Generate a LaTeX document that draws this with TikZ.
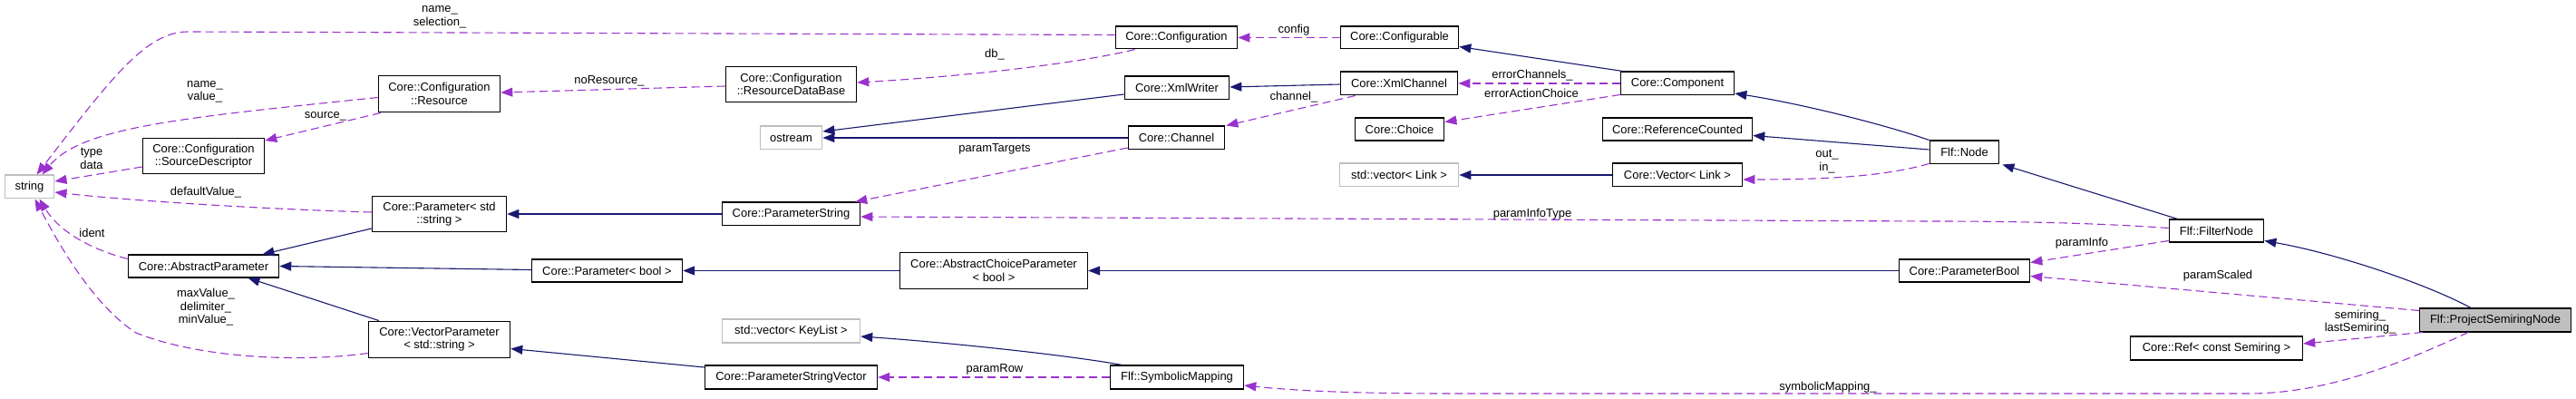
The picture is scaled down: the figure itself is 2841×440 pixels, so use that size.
\documentclass[tikz,border=0pt]{standalone}
\usepackage{fontspec}
\setmainfont{Liberation Sans}
\usetikzlibrary{arrows.meta,calc}
\definecolor{inhcol}{HTML}{191970}
\definecolor{usecol}{HTML}{9A32CD}
\definecolor{extgray}{HTML}{BFBFBF}
\tikzset{
  cls/.style={draw=black, line width=1.1bp, fill=white, inner sep=0pt, align=center,
    font=\fontsize{13}{14.6}\selectfont},
  ext/.style={cls, draw=extgray},
  cur/.style={cls, fill=extgray},
  inh/.style={draw=inhcol, line width=1.1bp, -{Triangle[length=13bp,width=10bp]}},
  use/.style={draw=usecol, line width=1.1bp, dash pattern=on 9bp off 5bp,
    -{Triangle[length=13bp,width=10bp]}},
  lbl/.style={inner sep=0pt, align=center, font=\fontsize{13}{14.6}\selectfont}
}
\begin{document}
\begin{tikzpicture}[x=1bp,y=-1bp]
\useasboundingbox (0,0) rectangle (2841,440);
% nodes
\node[ext, minimum width=55, minimum height=26] (string) at (32.5,206) {string};
\node[cls, minimum width=135, minimum height=40] (sourcedesc) at (224.5,172) {Core::Configuration\\::SourceDescriptor};
\node[cls, minimum width=167, minimum height=25] (abstractparam) at (224.5,293.5) {Core::AbstractParameter};
\node[cls, minimum width=135, minimum height=41] (resource) at (484.5,103.5) {Core::Configuration\\::Resource};
\node[cls, minimum width=149, minimum height=40] (paramstd) at (484.5,236) {Core::Parameter< std\\::string >};
\node[cls, minimum width=167, minimum height=25] (parambool) at (669.5,298.5) {Core::Parameter< bool >};
\node[cls, minimum width=157, minimum height=41] (vectorparam) at (484.5,374.5) {Core::VectorParameter\\< std::string >};
\node[cls, minimum width=145, minimum height=40] (rdb) at (872.5,93) {Core::Configuration\\::ResourceDataBase};
\node[ext, minimum width=69, minimum height=26] (ostream) at (872.5,152) {ostream};
\node[cls, minimum width=153, minimum height=26] (paramstring) at (872.5,236) {Core::ParameterString};
\node[ext, minimum width=153, minimum height=26] (keylist) at (872.5,365) {std::vector< KeyList >};
\node[cls, minimum width=191, minimum height=26] (psv) at (872.5,416) {Core::ParameterStringVector};
\node[cls, minimum width=135, minimum height=25] (configuration) at (1297.5,41.5) {Core::Configuration};
\node[cls, minimum width=116, minimum height=26] (xmlwriter) at (1298,97) {Core::XmlWriter};
\node[cls, minimum width=107, minimum height=26] (channel) at (1297.5,152) {Core::Channel};
\node[cls, minimum width=208, minimum height=41] (acp) at (1096,298.5) {Core::AbstractChoiceParameter\\< bool >};
\node[cls, minimum width=148, minimum height=26] (symmap) at (1298,416) {Flf::SymbolicMapping};
\node[cls, minimum width=131, minimum height=25] (configurable) at (1543.5,41.5) {Core::Configurable};
\node[cls, minimum width=130, minimum height=26] (xmlchannel) at (1543,92) {Core::XmlChannel};
\node[cls, minimum width=99, minimum height=25] (choice) at (1543.5,142.5) {Core::Choice};
\node[ext, minimum width=132, minimum height=26] (veclink) at (1543,193) {std::vector< Link >};
\node[cls, minimum width=126, minimum height=26] (component) at (1850,92) {Core::Component};
\node[cls, minimum width=166, minimum height=25] (refcounted) at (1850,142.5) {Core::ReferenceCounted};
\node[cls, minimum width=144, minimum height=26] (vectorlink) at (1850,193) {Core::Vector< Link >};
\node[cls, minimum width=77, minimum height=26] (flfnode) at (2166.5,168) {Flf::Node};
\node[cls, minimum width=145, minimum height=25] (parambool2) at (2166.5,298.5) {Core::ParameterBool};
\node[cls, minimum width=105, minimum height=25] (filternode) at (2444.5,254.5) {Flf::FilterNode};
\node[cls, minimum width=191, minimum height=26] (ref) at (2444.5,384) {Core::Ref< const Semiring >};
\node[cur, minimum width=168, minimum height=26] (psn) at (2752,353) {Flf::ProjectSemiringNode};

% inheritance
\draw[inh] ($(xmlwriter.west)+(0,7)$) -- ($(ostream.east)+(0,-7)$);
\draw[inh] (channel.west) -- (ostream.east);
\draw[inh] ($(xmlchannel.west)+(0,1)$) -- ($(xmlwriter.east)+(0,-1)$);
\draw[inh] ($(component.north west)+(3,0)$) -- ($(configurable.east)+(0,10)$);
\draw[inh] (flfnode.north west) .. controls (2080,138) and (1990,115) .. ($(component.east)+(0,11)$);
\draw[inh] ($(flfnode.west)+(0,-3)$) -- ($(refcounted.east)+(0,7)$);
\draw[inh] (vectorlink.west) -- (veclink.east);
\draw[inh] ($(filternode.north west)+(10,0)$) -- ($(flfnode.south east)+(3,0)$);
\draw[inh] ($(psn.north)+(-27,0)$) .. controls (2680,315) and (2580,280) .. ($(filternode.south east)+(0,-2)$);
\draw[inh] (paramstring.west) -- (paramstd.east);
\draw[inh] ($(paramstd.west)+(0,16)$) -- ($(abstractparam.north)+(65,0)$);
\draw[inh] ($(parambool.west)+(0,-1)$) -- (abstractparam.east);
\draw[inh] ($(vectorparam.north west)+(12,0)$) -- ($(abstractparam.south)+(49,0)$);
\draw[inh] (acp.west) -- (parambool.east);
\draw[inh] (parambool2.west) -- (acp.east);
\draw[inh] ($(psv.west)+(0,-11)$) -- ($(vectorparam.east)+(0,10)$);
\draw[inh] ($(symmap.north west)+(14,0)$) .. controls (1180,392) and (1050,378) .. ($(keylist.east)+(0,6)$);

% usage
\draw[use] ($(configuration.west)+(0,-3)$) -- (207,35) .. controls (160,35) and (120,90) .. ($(string.north)+(8,0)$);
\draw[use] ($(resource.west)+(0,4)$) .. controls (200,130) and (90,140) .. ($(string.north)+(14,0)$);
\draw[use] ($(sourcedesc.west)+(0,12)$) -- ($(string.east)+(0,-6)$);
\draw[use] ($(paramstd.west)+(0,-2)$) .. controls (300,231) and (150,222) .. ($(string.east)+(0,6)$);
\draw[use] ($(abstractparam.west)+(0,-8)$) .. controls (100,275) and (65,255) .. ($(string.south)+(11,0)$);
\draw[use] ($(vectorparam.west)+(0,15)$) .. controls (330,400) and (220,395) .. (150,367) .. controls (100,335) and (60,260) .. ($(string.south)+(6,0)$);
\draw[use] ($(resource.south west)+(3,0)$) -- ($(sourcedesc.east)+(0,-17)$);
\draw[use] ($(rdb.west)+(0,2)$) -- ($(resource.east)+(0,-1.5)$);
\draw[use] ($(configuration.south west)+(22,0)$) .. controls (1180,72) and (1050,85) .. ($(rdb.east)+(0,-2)$);
\draw[use] (configurable.west) -- (configuration.east);
\draw[use] ($(xmlchannel.south west)+(17,0)$) -- ($(channel.north east)+(1,0)$);
\draw[use] ($(channel.west)+(0,11)$) -- ($(paramstring.north east)+(-6,0)$);
\draw[use] (component.west) -- (xmlchannel.east);
\draw[use] ($(component.south west)+(0,-1)$) -- ($(choice.east)+(0,-8)$);
\draw[use] ($(flfnode.south west)+(0,-1)$) .. controls (2080,194) and (2020,198) .. ($(vectorlink.east)+(0,5)$);
\draw[use] ($(filternode.west)+(0,-3)$) .. controls (2300,245) and (2200,244) .. (2130,244) -- ($(paramstring.east)+(0,3)$);
\draw[use] ($(filternode.south west)+(0,-2)$) -- ($(parambool2.east)+(0,-9)$);
\draw[use] ($(psn.north west)+(0,3)$) -- ($(parambool2.east)+(0,6)$);
\draw[use] ($(psn.south west)+(4,0)$) -- ($(ref.east)+(0,-5)$);
\draw[use] ($(psn.south)+(-30,0)$) .. controls (2640,405) and (2560,434) .. (2480,434) -- (1600,434) .. controls (1480,434) and (1420,430) .. ($(symmap.east)+(0,9)$);
\draw[use] (symmap.west) -- (psv.east);

% labels
\node[lbl] (l1) at (485,19) {name\_\\selection\_};
\node[lbl] (l2) at (226,101.5) {name\_\\value\_};
\node[lbl] (l3) at (101,175) {type\\data};
\node[lbl] (l4) at (227,212) {defaultValue\_};
\node[lbl] (l5) at (101.5,257) {ident};
\node[lbl] (l6) at (227,339) {maxValue\_\\delimiter\_\\minValue\_};
\node[lbl] (l7) at (359,128) {source\_};
\node[lbl] (l8) at (672,89) {noResource\_};
\node[lbl] (l9) at (1097,60) {db\_};
\node[lbl] (l10) at (1427,33) {config};
\node[lbl] (l11) at (1427,107) {channel\_};
\node[lbl] (l12) at (1097,164) {paramTargets};
\node[lbl] (l13) at (1690,83) {errorChannels\_};
\node[lbl] (l14) at (1689,103) {errorActionChoice};
\node[lbl] (l15) at (2015,178) {out\_\\in\_};
\node[lbl] (l16) at (1690,236) {paramInfoType};
\node[lbl] (l17) at (2296,268) {paramInfo};
\node[lbl] (l18) at (2446,304) {paramScaled};
\node[lbl] (l19) at (2603,355) {semiring\_\\lastSemiring\_};
\node[lbl] (l20) at (2016,427) {symbolicMapping\_};
\node[lbl] (l21) at (1097,407) {paramRow};
\end{tikzpicture}
\end{document}
